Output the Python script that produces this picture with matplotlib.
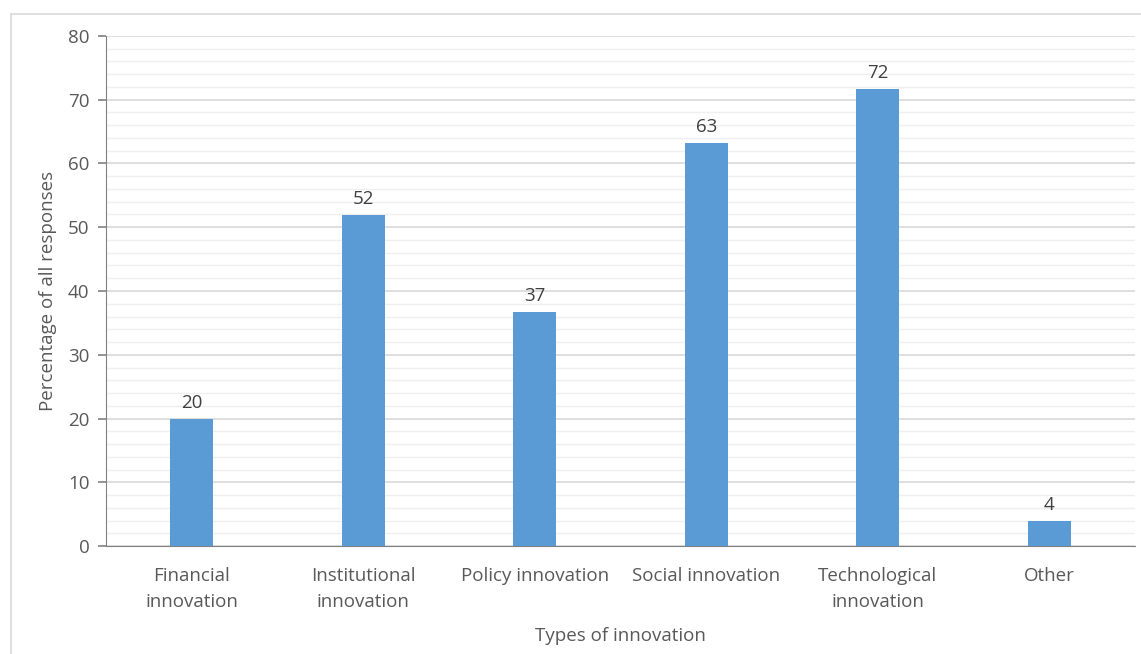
import numpy as np
import matplotlib.pyplot as plt
from matplotlib.patches import Rectangle
from matplotlib.ticker import MultipleLocator

# Données
categories = ["Financial\ninnovation", "Institutional\ninnovation", "Policy innovation",
              "Social innovation", "Technological\ninnovation", "Other"]
values = [19.9, 51.9, 36.7, 63.2, 71.7, 3.9]
labels = ["20", "52", "37", "63", "72", "4"]

plt.rcParams['font.family'] = ['Open Sans', 'DejaVu Sans']
txt = "#595959"
fs = 13.5

fig = plt.figure(figsize=(11.41, 6.54), dpi=100)
ax = fig.add_axes([0.0929, 0.1651, 0.9018, 0.7799])

# cadre gris clair autour du graphique
fig.patches.append(Rectangle((11 / 1141, -0.05), 1.2, 1 - 14 / 654 + 0.05,
                             transform=fig.transFigure, fill=False,
                             edgecolor="#d9d9d9", linewidth=1.2))

x = np.arange(len(categories))
bars = ax.bar(x, values, width=0.25, color="#5B9BD5", zorder=3)
for b, lab in zip(bars, labels):
    ax.annotate(lab, (b.get_x() + b.get_width() / 2, b.get_height()),
                xytext=(0, 5), textcoords="offset points", ha="center", va="bottom",
                fontsize=fs, color="#404040")

ax.set_xlim(-0.5, len(categories) - 0.5)
ax.set_ylim(0, 80)
ax.yaxis.set_major_locator(MultipleLocator(10))
ax.yaxis.set_minor_locator(MultipleLocator(2))
ax.grid(axis="y", which="major", color="#d9d9d9", linewidth=1.2, zorder=0)
ax.grid(axis="y", which="minor", color="#efefef", linewidth=1.0, zorder=0)

ax.set_xticks(x)
ax.set_xticklabels(categories, fontsize=fs, color=txt, linespacing=1.55)
ax.tick_params(axis="x", length=0, pad=15)
ax.tick_params(axis="y", which="major", length=6, width=1.2, color="#808080", labelsize=fs,
               labelcolor=txt, pad=6)
ax.tick_params(axis="y", which="minor", length=0)

for s in ["top", "right"]:
    ax.spines[s].set_visible(False)
ax.spines["left"].set_color("#808080")
ax.spines["bottom"].set_color("#808080")

ax.set_ylabel("Percentage of all responses", fontsize=fs, color=txt, labelpad=8)
ax.set_xlabel("Types of innovation", fontsize=fs, color=txt, labelpad=12)

fig.savefig("out.png", dpi=100)
